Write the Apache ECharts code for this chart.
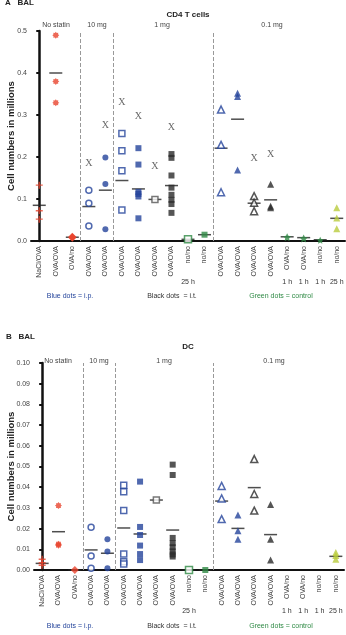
<!DOCTYPE html>
<html>
<head>
<meta charset="utf-8">
<script src="https://cdn.jsdelivr.net/npm/echarts@6/dist/echarts.min.js"></script>
<style>
  html, body { margin: 0; padding: 0; background: #fff; }
  #chart { width: 346px; height: 635px; }
</style>
</head>
<body>
<div id="chart"></div>
<script>
// categories along x (same for both panels)
const categories = ['NaCl/OVA', 'OVA/OVA', 'OVA/no', 'OVA/OVA', 'OVA/OVA', 'OVA/OVA', 'OVA/OVA', 'OVA/OVA', 'OVA/OVA',
  'no/no', 'no/no', 'OVA/OVA', 'OVA/OVA', 'OVA/OVA', 'OVA/OVA', 'OVA/no', 'OVA/no', 'no/no', 'no/no']
const timeLabels = ['', '', '', '', '', '', '', '', '', '25 h', '', '', '', '', '', '1 h', '1 h', '1 h', '25 h']
const groupNames = ['No statin', '10 mg', '1 mg', '0.1 mg']
const separators = [2.5, 4.5, 10.5]
const cd4Ticks = ['0.0', '0.1', '0.2', '0.3', '0.4', '0.5']
const dcTicks = ['0.00', '0.01', '0.02', '0.03', '0.04', '0.05', '0.06', '0.07', '0.08', '0.09', '0.10']

// A: CD4 T cells (millions)
const cd4Points = [
  [0.133, 0.072, 0.052],
  [0.490, 0.380, 0.329],
  [0.008, 0.009, 0.010],
  [0.121, 0.090, 0.036],
  [0.199, 0.136, 0.028],
  [0.256, 0.215, 0.167, 0.074],
  [0.221, 0.182, 0.117, 0.112, 0.106, 0.054],
  [0.099],
  [0.207, 0.198, 0.156, 0.127, 0.110, 0.098, 0.088, 0.067],
  [0.004],
  [0.015],
  [0.313, 0.229, 0.116],
  [0.352, 0.344, 0.169],
  [0.107, 0.091, 0.071],
  [0.135, 0.083, 0.079],
  [0.009],
  [0.006],
  [0.002],
  [0.079, 0.055, 0.029]
]
const cd4Means = [0.085, 0.400, 0.009, 0.082, 0.121, 0.144, 0.124, 0.099, 0.132, 0.004, 0.015,
  0.221, 0.290, 0.090, 0.098, 0.010, 0.008, 0.003, 0.054]
const cd4Crosses = [null, null, null, 0.185, 0.276, 0.330, 0.297, 0.177, 0.270, null, null,
  null, null, 0.196, 0.207, null, null, null, null]

// B: DC (millions)
const dcPoints = [
  [0.0052, 0.0035, 0.0023],
  [0.0311, 0.0125, 0.0120],
  [0.0],
  [0.0206, 0.0068, 0.0008],
  [0.0148, 0.0089, 0.0008],
  [0.0410, 0.0378, 0.0287, 0.0077, 0.0040, 0.0029],
  [0.0427, 0.0208, 0.0169, 0.0118, 0.0077, 0.0048],
  [0.0338],
  [0.0509, 0.0459, 0.0155, 0.0130, 0.0110, 0.0090, 0.0075, 0.0065],
  [0.0],
  [0.0],
  [0.0406, 0.0346, 0.0246],
  [0.0266, 0.0190, 0.0148],
  [0.0536, 0.0367, 0.0287],
  [0.0317, 0.0148, 0.0048],
  [],
  [],
  [],
  [0.0085, 0.0070, 0.0052]
]
const dcMeans = [0.0032, 0.0185, 0.0, 0.0097, 0.0081, 0.0203, 0.0174, 0.0338, 0.0193, 0.0, 0.0,
  0.0333, 0.0201, 0.0398, 0.0171, null, null, null, 0.0066]

function starPath(n, r1, r2) {
  let d = ''
  for (let k = 0; k < 2 * n; k++) {
    const a = Math.PI * k / n - Math.PI / 2
    const r = k % 2 ? r2 : r1
    d += (k ? 'L' : 'M') + (10 + r * Math.cos(a)).toFixed(2) + ',' + (10 + r * Math.sin(a)).toFixed(2)
  }
  return 'path://' + d + 'Z'
}

const RED = '#e8432d', BLUE = '#24449b', DARK = '#2a2a2a', GREEN = '#2f8a45', LIME = '#b9cc3c'
const PLUS = 'path://M4,0H6V4H10V6H6V10H4V6H0V4H4Z'
const STAR8 = starPath(8, 10, 7)
const STAR5 = starPath(5, 10, 5)

// marker style for each category
const markers = [
  { symbol: PLUS, color: RED, size: 7 },
  { symbol: STAR8, color: RED, size: 7 },
  { symbol: 'diamond', color: RED, size: 8 },
  { symbol: 'circle', color: BLUE, size: 6, open: true },
  { symbol: 'circle', color: BLUE, size: 6 },
  { symbol: 'rect', color: BLUE, size: 6, open: true },
  { symbol: 'rect', color: BLUE, size: 6 },
  { symbol: 'rect', color: '#555', size: 6, open: true },
  { symbol: 'rect', color: DARK, size: 6 },
  { symbol: 'rect', color: GREEN, size: 7, open: true },
  { symbol: 'rect', color: GREEN, size: 6 },
  { symbol: 'triangle', color: BLUE, size: 7, open: true },
  { symbol: 'triangle', color: BLUE, size: 7 },
  { symbol: 'triangle', color: DARK, size: 7, open: true },
  { symbol: 'triangle', color: DARK, size: 7 },
  { symbol: STAR5, color: GREEN, size: 8 },
  { symbol: STAR5, color: GREEN, size: 8 },
  { symbol: STAR5, color: GREEN, size: 7 },
  { symbol: 'triangle', color: LIME, size: 7 }
]

const FONT = 'Liberation Sans'
const panels = [
  { grid: { left: 31, top: 31, width: 314, height: 210, outerBoundsMode: 'none', containLabel: false },
    max: 0.5, interval: 0.1, ticks: cd4Ticks, nameGap: 15,
    points: cd4Points, means: cd4Means, crosses: cd4Crosses },
  { grid: { left: 34, top: 363, width: 310, height: 207, outerBoundsMode: 'none', containLabel: false },
    max: 0.1, interval: 0.01, ticks: dcTicks, nameGap: 18,
    points: dcPoints, means: dcMeans, crosses: null }
]

const grids = [], xAxes = [], yAxes = [], series = []
panels.forEach((p, pi) => {
  grids.push(p.grid)
  const cx = pi * 3
  // main category axis
  xAxes.push({
    type: 'category', gridIndex: pi, data: categories,
    axisLine: { lineStyle: { color: '#111', width: 2 } },
    axisTick: { alignWithLabel: true, length: 3, lineStyle: { color: '#111', width: 1 } },
    axisLabel: { rotate: 90, fontSize: 7, color: '#444', fontFamily: FONT, margin: 5, interval: 0 }
  })
  // time labels under the category labels
  xAxes.push({
    type: 'category', gridIndex: pi, data: timeLabels, position: 'bottom', offset: 36,
    axisLine: { show: false }, axisTick: { show: false },
    axisLabel: { fontSize: 7, color: '#333', fontFamily: FONT, margin: 2, interval: 0 }
  })
  // hidden value axis for group separators
  xAxes.push({ type: 'value', gridIndex: pi, min: -0.5, max: categories.length - 0.5, show: false })
  yAxes.push({
    type: 'value', gridIndex: pi, min: 0, max: p.max, interval: p.interval,
    name: 'Cell numbers in millions', nameLocation: 'middle', nameGap: p.nameGap, nameMoveOverlap: false,
    nameTextStyle: { fontSize: 9.5, fontWeight: 'bold', color: '#222', fontFamily: FONT },
    splitLine: { show: false },
    axisLine: { show: true, lineStyle: { color: '#111', width: 2.5 } },
    axisTick: { show: true, length: 3, lineStyle: { color: '#111', width: 2 } },
    axisLabel: { fontSize: 7, color: '#444', fontFamily: FONT, margin: 4,
      formatter: v => p.ticks[Math.round(v / p.interval)] }
  })

  series.push({
    type: 'scatter', xAxisIndex: cx + 2, yAxisIndex: pi, data: [[0, 0]], symbolSize: 0, silent: true,
    markLine: {
      silent: true, symbol: 'none', label: { show: false },
      lineStyle: { type: 'dashed', color: '#999', width: 1 },
      data: separators.map(s => ({ xAxis: s }))
    }
  })

  p.points.forEach((vals, i) => {
    const m = markers[i]
    series.push({
      type: 'scatter', xAxisIndex: cx, yAxisIndex: pi, clip: false, z: 3,
      symbol: m.symbol, symbolSize: m.size,
      itemStyle: m.open
        ? { color: '#fff', borderColor: m.color, borderWidth: 1.5 }
        : { color: m.color },
      data: vals.map(v => [i, v])
    })
  })

  series.push({
    type: 'scatter', xAxisIndex: cx, yAxisIndex: pi, clip: false, z: 2,
    symbol: 'rect', symbolSize: [13, 1.5], itemStyle: { color: '#222' },
    data: p.means.map((v, i) => v === null ? null : [i, v]).filter(d => d)
  })

  if (p.crosses) {
    series.push({
      type: 'scatter', xAxisIndex: cx, yAxisIndex: pi, z: 4,
      symbol: 'rect', symbolSize: 8, itemStyle: { color: 'rgba(0,0,0,0)' },
      label: { show: true, position: 'inside', formatter: 'X', fontFamily: 'Liberation Serif',
        fontSize: 10, color: '#444' },
      data: p.crosses.map((v, i) => v === null ? null : [i, v]).filter(d => d)
    })
  }
})

function txt(x, y, text, opts) {
  return {
    type: 'text', x: x, y: y,
    style: Object.assign({ text: text, fill: '#444', font: '7px ' + FONT, textAlign: 'center', textVerticalAlign: 'middle' }, opts || {})
  }
}

const groupX = [56, 97, 162, 272]
const graphics = [
  txt(5, 3, 'A   BAL', { font: 'bold 8px ' + FONT, textAlign: 'left', fill: '#222' }),
  txt(188, 15, 'CD4 T cells', { font: 'bold 8px ' + FONT, fill: '#222' }),
  txt(6, 337, 'B   BAL', { font: 'bold 8px ' + FONT, textAlign: 'left', fill: '#222' }),
  txt(188, 347, 'DC', { font: 'bold 8px ' + FONT, fill: '#222' })
]
groupNames.forEach((g, i) => {
  graphics.push(txt(groupX[i], 25, g))
  graphics.push(txt(groupX[i] + 2, 361, g))
})
;[296, 626].forEach(y => {
  graphics.push(txt(70, y, 'Blue dots = i.p.', { fill: BLUE }))
  graphics.push(txt(172, y, 'Black dots  = i.t.', { fill: '#333' }))
  graphics.push(txt(281, y, 'Green dots = control', { fill: GREEN }))
})

const chart = echarts.init(document.getElementById('chart'))
chart.setOption({
  animation: false,
  backgroundColor: '#fff',
  grid: grids,
  xAxis: xAxes,
  yAxis: yAxes,
  series: series,
  graphic: graphics
})
</script>
</body>
</html>
